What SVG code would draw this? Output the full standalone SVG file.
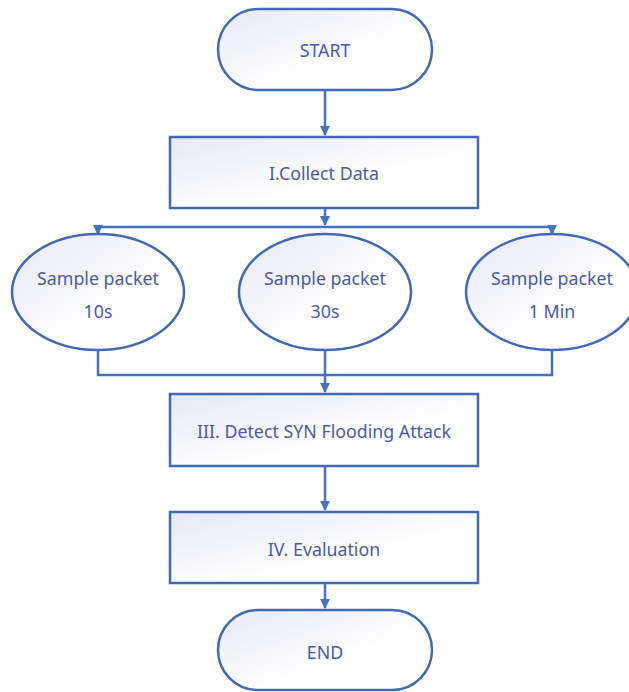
<svg xmlns="http://www.w3.org/2000/svg" width="629" height="692" viewBox="0 0 629 692">
<defs>
<linearGradient id="g" x1="0" y1="0" x2="1" y2="1">
<stop offset="0" stop-color="#e6e8f4"/>
<stop offset="0.6" stop-color="#ffffff"/>
<stop offset="1" stop-color="#ffffff"/>
</linearGradient>
<marker id="ah" viewBox="0 0 10 10" refX="9" refY="5" markerWidth="4" markerHeight="4" orient="auto" markerUnits="strokeWidth">
<path d="M0,0 L10,5 L0,10 z" fill="#4472c4"/>
</marker>
<style>
.n{fill:url(#g);stroke:#4169b4;stroke-width:2.5}
.t{font-family:"Noto Sans","DejaVu Sans",sans-serif;font-size:17.8px;fill:#4b5aa8;text-anchor:middle;dominant-baseline:central}
.c{fill:none;stroke:#4472c4;stroke-width:2.5}
</style>
</defs>
<rect width="629" height="692" fill="#ffffff"/>
<g id="connectors">
<path class="c" d="M325,90 V135" marker-end="url(#ah)"/>
<path class="c" d="M325,208 V225" marker-end="url(#ah)"/>
<path class="c" d="M98,234 V227 H552 V234"/>
<path class="c" d="M98,227 V234" marker-end="url(#ah)"/>
<path class="c" d="M552,227 V234" marker-end="url(#ah)"/>
<path class="c" d="M98,350 V375 H552 V350"/>
<path class="c" d="M325,350 V392" marker-end="url(#ah)"/>
<path class="c" d="M325,466 V510" marker-end="url(#ah)"/>
<path class="c" d="M325,583 V608" marker-end="url(#ah)"/>
</g>
<g id="start">
<rect class="n" x="218" y="9" width="214" height="81" rx="40.5"/>
<text class="t" x="325" y="50">START</text>
</g>
<g id="collect">
<rect class="n" x="170" y="137" width="308" height="71"/>
<text class="t" x="324" y="173">I.Collect Data</text>
</g>
<g id="s10">
<ellipse class="n" cx="98" cy="292" rx="86" ry="58"/>
<text class="t" x="98" y="278">Sample packet</text>
<text class="t" x="98" y="311">10s</text>
</g>
<g id="s30">
<ellipse class="n" cx="325" cy="292" rx="86" ry="58"/>
<text class="t" x="325" y="278">Sample packet</text>
<text class="t" x="325" y="311">30s</text>
</g>
<g id="s1m">
<ellipse class="n" cx="552" cy="292" rx="86" ry="58"/>
<text class="t" x="552" y="278">Sample packet</text>
<text class="t" x="552" y="311">1 Min</text>
</g>
<g id="detect">
<rect class="n" x="170" y="394" width="308" height="72"/>
<text class="t" x="324" y="431">III. Detect SYN Flooding Attack</text>
</g>
<g id="eval">
<rect class="n" x="170" y="512" width="308" height="71"/>
<text class="t" x="324" y="549">IV. Evaluation</text>
</g>
<g id="end">
<rect class="n" x="218" y="610" width="214" height="80" rx="40"/>
<text class="t" x="325" y="652">END</text>
</g>
</svg>
